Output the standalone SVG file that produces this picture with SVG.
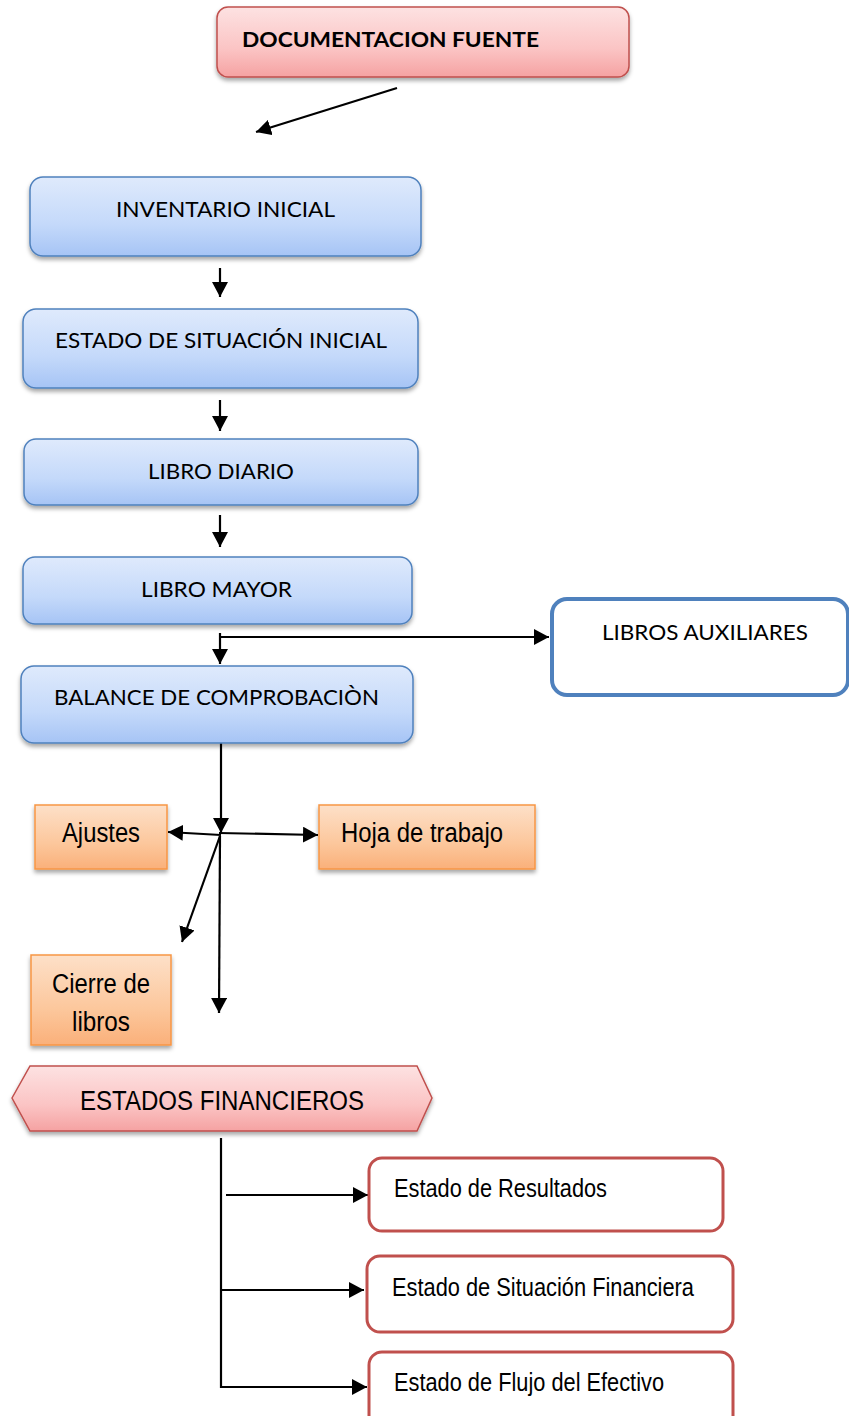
<svg xmlns="http://www.w3.org/2000/svg" width="849" height="1416" viewBox="0 0 849 1416">
<defs>
<linearGradient id="gBlue" x1="0" y1="0" x2="0" y2="1"><stop offset="0" stop-color="#dfeafc"/><stop offset="0.6" stop-color="#c4d9fa"/><stop offset="1" stop-color="#a6c4f5"/></linearGradient>
<linearGradient id="gPink" x1="0" y1="0" x2="0" y2="1"><stop offset="0" stop-color="#fde2e2"/><stop offset="0.6" stop-color="#fbc4c4"/><stop offset="1" stop-color="#f5a2a2"/></linearGradient>
<linearGradient id="gOrange" x1="0" y1="0" x2="0" y2="1"><stop offset="0" stop-color="#fde0c8"/><stop offset="0.6" stop-color="#fcc79c"/><stop offset="1" stop-color="#fab07a"/></linearGradient>
<filter id="sh" x="-10%" y="-10%" width="120%" height="140%"><feDropShadow dx="0" dy="3" stdDeviation="2" flood-color="#000" flood-opacity="0.35"/></filter>
<marker id="ah" markerUnits="userSpaceOnUse" markerWidth="16" markerHeight="16" refX="15" refY="8" orient="auto" viewBox="0 0 16 16"><path d="M0,0 L15,8 L0,16 z" fill="#000"/></marker>
</defs>
<style>
.blue{fill:url(#gBlue);stroke:#4f81bd;stroke-width:1.5;filter:url(#sh)}
.pink{fill:url(#gPink);stroke:#c0504d;stroke-width:1.5;filter:url(#sh)}
.orange{fill:url(#gOrange);stroke:#f79646;stroke-width:1.5;filter:url(#sh)}
.red{fill:#fff;stroke:#c0504d;stroke-width:3}
.cal{font-family:Lato,"Liberation Sans",sans-serif;font-size:21px;fill:#000}
.nar{font-family:"Liberation Sans",Arial,sans-serif;font-size:27px;fill:#000}
.nar2{font-family:"Liberation Sans",Arial,sans-serif;font-size:25px;fill:#000}
.c{fill:none;stroke:#000;stroke-width:2.2}
</style>
<g id="connectors">
<line class="c" x1="397" y1="88" x2="256" y2="132" marker-end="url(#ah)"/>
<line class="c" x1="220" y1="268" x2="220" y2="297" marker-end="url(#ah)"/>
<line class="c" x1="220" y1="400" x2="220" y2="431" marker-end="url(#ah)"/>
<line class="c" x1="220" y1="515" x2="220" y2="547" marker-end="url(#ah)"/>
<line class="c" x1="220" y1="633" x2="220" y2="664" marker-end="url(#ah)"/>
<line class="c" x1="219" y1="637" x2="549" y2="637" marker-end="url(#ah)"/>
<line class="c" x1="221" y1="743" x2="221" y2="833" marker-end="url(#ah)"/>
<line class="c" x1="221" y1="835" x2="168" y2="832" marker-end="url(#ah)"/>
<line class="c" x1="219" y1="833" x2="318" y2="835" marker-end="url(#ah)"/>
<line class="c" x1="220" y1="836" x2="182" y2="942" marker-end="url(#ah)"/>
<line class="c" x1="220" y1="836" x2="219" y2="1013" marker-end="url(#ah)"/>
<polyline class="c" points="221,1138 221,1387 367,1387" marker-end="url(#ah)"/>
<line class="c" x1="226" y1="1195" x2="368" y2="1195" marker-end="url(#ah)"/>
<line class="c" x1="221" y1="1290" x2="364" y2="1290" marker-end="url(#ah)"/>
</g>
<g id="n-documentacion">
<rect class="pink" x="217" y="7" width="412" height="70" rx="11"/>
<text class="cal" x="242" y="47" font-size="21" font-weight="bold" textLength="297" lengthAdjust="spacingAndGlyphs">DOCUMENTACION FUENTE</text>
</g>
<g id="n-inventario">
<rect class="blue" x="30" y="177" width="391" height="79" rx="13"/>
<text class="cal" x="116" y="217" textLength="219" lengthAdjust="spacingAndGlyphs">INVENTARIO INICIAL</text>
</g>
<g id="n-estado-inicial">
<rect class="blue" x="23" y="309" width="395" height="79" rx="13"/>
<text class="cal" x="55" y="348" textLength="332" lengthAdjust="spacingAndGlyphs">ESTADO DE SITUACIÓN INICIAL</text>
</g>
<g id="n-diario">
<rect class="blue" x="24" y="439" width="394" height="66" rx="12"/>
<text class="cal" x="148" y="479" textLength="146" lengthAdjust="spacingAndGlyphs">LIBRO DIARIO</text>
</g>
<g id="n-mayor">
<rect class="blue" x="23" y="557" width="389" height="67" rx="12"/>
<text class="cal" x="141" y="597" textLength="151" lengthAdjust="spacingAndGlyphs">LIBRO MAYOR</text>
</g>
<g id="n-balance">
<rect class="blue" x="21" y="666" width="392" height="77" rx="13"/>
<text class="cal" x="54" y="705" textLength="325" lengthAdjust="spacingAndGlyphs">BALANCE DE COMPROBACIÒN</text>
</g>
<g id="n-auxiliares">
<rect x="552" y="599" width="296" height="96" rx="15" fill="#fff" stroke="#4f81bd" stroke-width="4"/>
<text class="cal" x="602" y="640" textLength="206" lengthAdjust="spacingAndGlyphs">LIBROS AUXILIARES</text>
</g>
<g id="n-ajustes">
<rect class="orange" x="35" y="805" width="132" height="64"/>
<text class="nar" x="62" y="842" textLength="78" lengthAdjust="spacingAndGlyphs">Ajustes</text>
</g>
<g id="n-hoja">
<rect class="orange" x="319" y="805" width="216" height="64"/>
<text class="nar" x="341" y="842" textLength="162" lengthAdjust="spacingAndGlyphs">Hoja de trabajo</text>
</g>
<g id="n-cierre">
<rect class="orange" x="31" y="955" width="140" height="90"/>
<text class="nar" x="52" y="993" textLength="98" lengthAdjust="spacingAndGlyphs">Cierre de</text>
<text class="nar" x="72" y="1031" textLength="58" lengthAdjust="spacingAndGlyphs">libros</text>
</g>
<g id="n-estados-financieros">
<polygon class="pink" points="12,1098 30,1066 417,1066 432,1098 417,1131 30,1131"/>
<text class="nar" x="80" y="1110" textLength="284" lengthAdjust="spacingAndGlyphs">ESTADOS FINANCIEROS</text>
</g>
<g id="n-resultados">
<rect class="red" x="369" y="1158" width="354" height="73" rx="13"/>
<text class="nar2" x="394" y="1197" textLength="213" lengthAdjust="spacingAndGlyphs">Estado de Resultados</text>
</g>
<g id="n-situacion-financiera">
<rect class="red" x="367" y="1256" width="366" height="76" rx="13"/>
<text class="nar2" x="392" y="1296" textLength="302" lengthAdjust="spacingAndGlyphs">Estado de Situación Financiera</text>
</g>
<g id="n-flujo">
<rect class="red" x="369" y="1352" width="364" height="80" rx="13"/>
<text class="nar2" x="394" y="1391" textLength="270" lengthAdjust="spacingAndGlyphs">Estado de Flujo del Efectivo</text>
</g>
</svg>
